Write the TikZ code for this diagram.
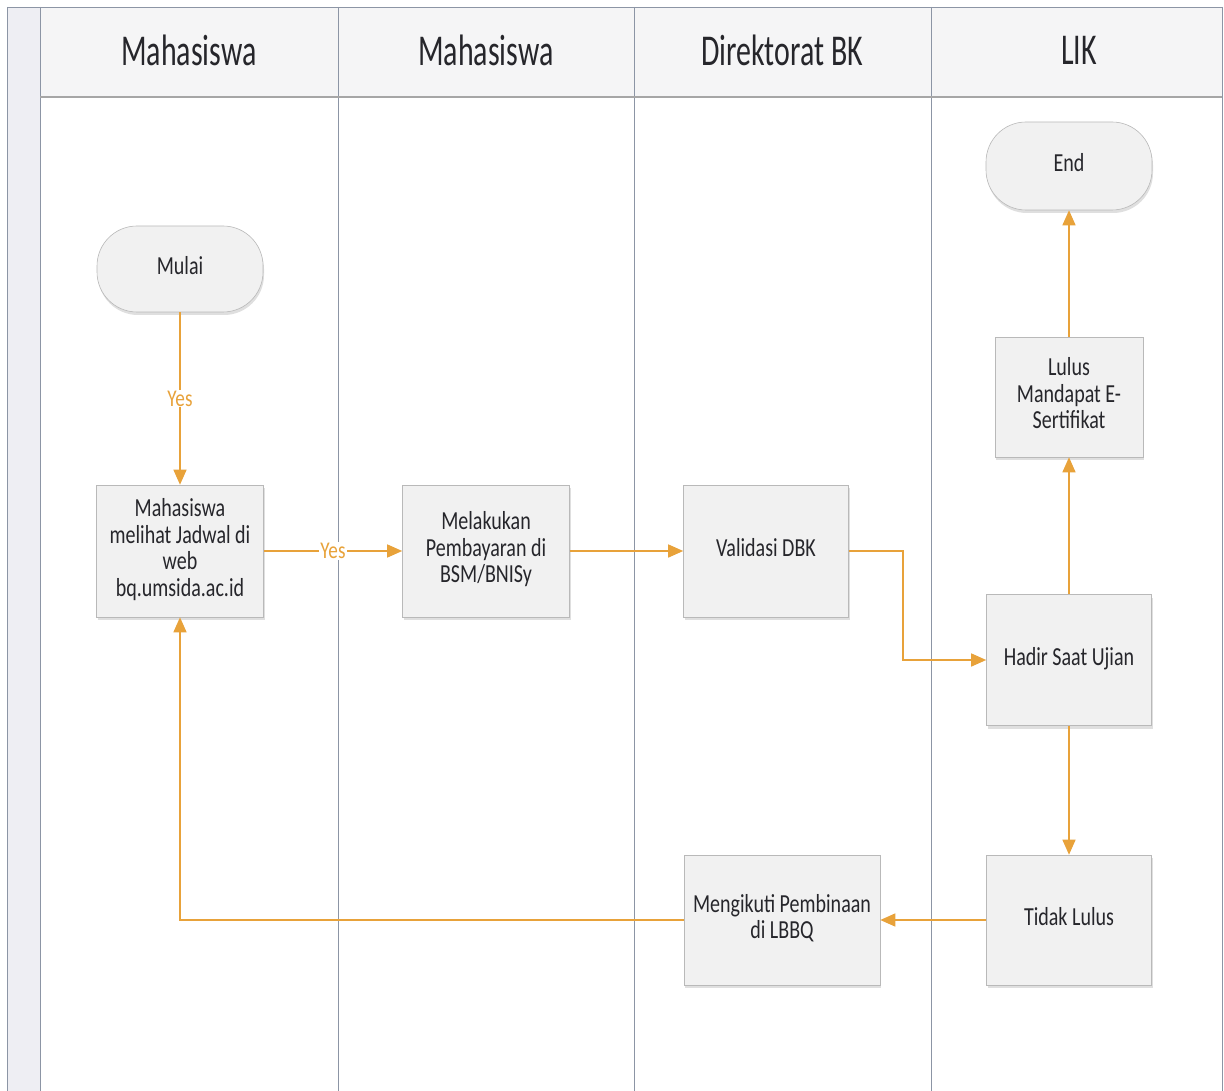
\documentclass[tikz,border=0pt]{standalone}
\usepackage{fontspec}
\setmainfont{Carlito}
\usetikzlibrary{arrows.meta,shadows}
\definecolor{flow}{HTML}{E8A23A}
\definecolor{lane}{HTML}{8C95A5}
\definecolor{boxfill}{HTML}{F1F1F1}
\definecolor{hdrfill}{HTML}{F5F5F6}
\definecolor{strip}{HTML}{EEEEF3}
\definecolor{txt}{HTML}{26262B}
\newcommand{\ntext}[1]{\raisebox{-2.5pt}{\scalebox{0.77}[1]{\fontsize{26}{26.5}\selectfont\begin{tabular}{@{}c@{}}#1\end{tabular}}}}
\newcommand{\htext}[1]{\scalebox{0.68}[1]{\fontsize{44}{48}\selectfont #1}}
\newcommand{\ytext}[1]{\scalebox{0.8}[1]{\fontsize{24}{26}\selectfont #1}}
\tikzset{
  procbox/.style={rectangle, draw=gray!55, line width=0.6pt, fill=boxfill, align=center,
    text=txt, inner sep=2pt,
    drop shadow={shadow xshift=1pt, shadow yshift=-3pt, opacity=0.25}},
  termbox/.style={procbox, rounded corners=40pt},
  flowline/.style={draw=flow, line width=1.4pt, -{Triangle[length=15pt,width=13pt]}},
  yeslbl/.style={fill=white, text=flow, inner sep=1pt},
  hdr/.style={text=txt},
  laneline/.style={draw=lane, line width=0.8pt}
}
\begin{document}
\begin{tikzpicture}[x=1pt,y=-1pt]
\useasboundingbox (0,0) rectangle (1224,1091);
% background pieces
\fill[white] (0,0) rectangle (1224,1091);
\fill[strip] (7,7) rectangle (40,1091);
\fill[hdrfill] (40,7) rectangle (1222,97);
% frame and lanes
\draw[laneline] (7,7) -- (1222,7);
\draw[laneline] (7,7) -- (7,1091);
\draw[laneline] (40,7) -- (40,1091);
\draw[laneline] (338,7) -- (338,1091);
\draw[laneline] (634,7) -- (634,1091);
\draw[laneline] (931,7) -- (931,1091);
\draw[laneline] (1222,7) -- (1222,1091);
\draw[draw=gray!70, line width=2pt] (40,97) -- (1222,97);
% headers
\node[hdr] (h1) at (189,50) {\htext{Mahasiswa}};
\node[hdr] (h2) at (486,50) {\htext{Mahasiswa}};
\node[hdr] (h3) at (782,50) {\htext{Direktorat BK}};
\node[hdr] (h4) at (1079,50) {\htext{LIK}};
% nodes
\node[termbox, minimum width=166pt, minimum height=86pt] (mulai) at (180,269) {\ntext{Mulai}};
\node[procbox, minimum width=167pt, minimum height=132pt] (mhs) at (180,551) {\ntext{Mahasiswa\\melihat Jadwal di\\web\\bq.umsida.ac.id}};
\node[procbox, minimum width=167pt, minimum height=132pt] (bayar) at (486,551) {\ntext{Melakukan\\Pembayaran di\\BSM/BNISy}};
\node[procbox, minimum width=165pt, minimum height=132pt] (valid) at (766,551) {\ntext{Validasi DBK}};
\node[procbox, minimum width=165pt, minimum height=131pt] (hadir) at (1069,660) {\ntext{Hadir Saat Ujian}};
\node[procbox, minimum width=148pt, minimum height=120pt] (lulus) at (1069,397) {\ntext{Lulus\\Mandapat E-\\Sertifikat}};
\node[termbox, minimum width=166pt, minimum height=88pt] (end) at (1069,166) {\ntext{End}};
\node[procbox, minimum width=165pt, minimum height=130pt] (tidak) at (1069,920) {\ntext{Tidak Lulus}};
\node[procbox, minimum width=196pt, minimum height=130pt] (ikut) at (782,920) {\ntext{Mengikuti Pembinaan\\di LBBQ}};
% connectors
\draw[flowline] (mulai) -- node[yeslbl] {\ytext{Yes}} (mhs);
\draw[flowline] (mhs) -- node[yeslbl, pos=0.5] {\ytext{Yes}} (bayar);
\draw[flowline] (bayar) -- (valid);
\coordinate (bend1) at (903,551);
\draw[flowline] (valid.east) -- (bend1) |- (hadir.west);
\draw[flowline] (hadir) -- (lulus);
\draw[flowline] (lulus) -- (end);
\draw[flowline] (hadir) -- (tidak);
\draw[flowline] (tidak) -- (ikut);
\draw[flowline] (ikut.west) -| (mhs.south);
\end{tikzpicture}
\end{document}
